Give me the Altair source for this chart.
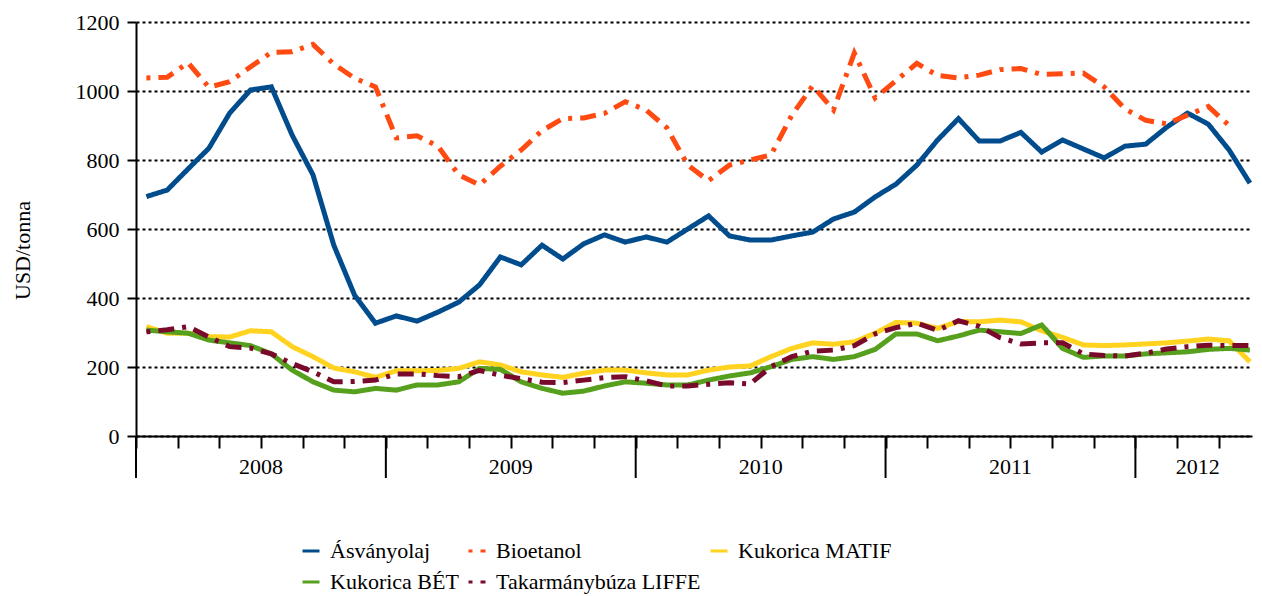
import altair as alt
import pandas as pd

series = ["Ásványolaj", "Bioetanol", "Kukorica MATIF", "Kukorica BÉT", "Takarmánybúza LIFFE"]
colors = ["#004C8C", "#FF4A12", "#FFD320", "#57A01E", "#7A0A2C"]
dashes = [[1, 0], [4, 8, 16, 8], [1, 0], [1, 0], [4, 8, 16, 8]]
years = ["2008", "2009", "2010", "2011", "2012"]
y_ticks = [0, 200, 400, 600, 800, 1000, 1200]

# monthly prices, USD/tonna, Jan 2008 - Jun 2012
asvanyolaj = [694, 713, 774, 834, 936, 1003, 1012, 872, 757, 553, 408, 327,
              348, 333, 359, 388, 438, 519, 496, 553, 513, 557, 583, 562,
              577, 562, 600, 638, 580, 568, 568, 580, 591, 629, 649, 693,
              730, 785, 858, 920, 855, 855, 880, 823, 858, 832, 806, 840,
              846, 895, 936, 904, 829, 733]
bioetanol = [1038, 1040, 1082, 1011, 1027, 1070, 1112, 1114, 1135, 1078, 1037, 1012,
             864, 870, 840, 757, 728, 782, 829, 885, 920, 922, 935, 969,
             945, 893, 785, 740, 785, 800, 815, 930, 1015, 945, 1110, 980,
             1030, 1080, 1045, 1038, 1046, 1062, 1065, 1048, 1050, 1052, 1012, 948,
             915, 905, 930, 955, 900]
kukorica_matif = [317, 298, 298, 288, 287, 305, 302, 259, 230, 197, 186, 170,
                  189, 189, 190, 196, 215, 206, 186, 177, 170, 182, 191, 191,
                  183, 177, 177, 191, 200, 203, 230, 254, 270, 266, 273, 298,
                  329, 327, 312, 332, 331, 336, 331, 305, 286, 264, 262, 264,
                  267, 270, 275, 281, 276, 215]
kukorica_bet = [307, 302, 298, 278, 270, 262, 238, 191, 157, 133, 128, 138,
                133, 148, 148, 157, 196, 193, 157, 138, 124, 130, 145, 157,
                153, 148, 148, 162, 174, 183, 201, 222, 230, 222, 230, 251,
                296, 296, 276, 290, 307, 302, 297, 322, 254, 228, 232, 232,
                238, 241, 244, 251, 254, 249]
takarmanybuza = [302, 308, 317, 287, 259, 255, 238, 210, 186, 157, 158, 162,
                 180, 180, 175, 172, 190, 176, 166, 156, 155, 162, 169, 172,
                 160, 145, 145, 150, 154, 151, 201, 230, 246, 249, 262, 296,
                 314, 327, 306, 334, 318, 285, 267, 270, 270, 238, 233, 232,
                 240, 252, 259, 263, 262, 262]

values = [asvanyolaj, bioetanol, kukorica_matif, kukorica_bet, takarmanybuza]
rows = []
for name, vals in zip(series, values):
    for i, v in enumerate(vals):
        rows.append({"series": name, "m": i + 0.5, "v": v})
df = pd.DataFrame(rows)

n_months = max(len(v) for v in values)
year_df = pd.DataFrame({
    "year": years,
    "m": [(12 * k + min(12 * k + 12, n_months)) / 2 for k in range(len(years))],
})
bound_df = pd.DataFrame({"m": [12 * k for k in range(len(years))]})

FONT = "Liberation Serif"
x_scale = alt.Scale(domain=[0, 53.6], nice=False, zero=False)

legend = alt.Legend(title=None, orient="none", legendX=164, legendY=518,
                    direction="horizontal", columns=3,
                    symbolType="stroke", symbolSize=289,
                    symbolStrokeWidth=3, labelFont=FONT, labelFontSize=22,
                    labelColor="black", labelOffset=8, columnPadding=3,
                    rowPadding=9, labelLimit=500, padding=0)

lines = alt.Chart(df).mark_line(strokeWidth=5).encode(
    x=alt.X("m:Q", scale=x_scale,
            axis=alt.Axis(values=list(range(n_months)), labels=False, title=None,
                          tickSize=12, tickWidth=2, tickColor="black",
                          domainColor="black", domainWidth=2, grid=False)),
    y=alt.Y("v:Q", scale=alt.Scale(domain=[0, 1200], nice=False),
            axis=alt.Axis(values=y_ticks, format="d", title="USD/tonna", grid=True,
                          gridDash=[3, 3], gridColor="black", gridWidth=2,
                          tickSize=9, tickWidth=2, tickColor="black",
                          domainColor="black", domainWidth=2,
                          labelFont=FONT, labelFontSize=22, labelColor="black",
                          labelPadding=8,
                          titleFont=FONT, titleFontSize=22, titleFontWeight="normal",
                          titleColor="black", titleAngle=270, titleX=-114, titleY=228,
                          titleAlign="center", titleBaseline="middle")),
    color=alt.Color("series:N", sort=series,
                    scale=alt.Scale(domain=series, range=colors), legend=legend),
    strokeDash=alt.StrokeDash("series:N", sort=series,
                              scale=alt.Scale(domain=series, range=dashes), legend=legend),
)

bounds = alt.Chart(bound_df).mark_rule(color="black", strokeWidth=2).encode(
    x=alt.X("m:Q", scale=x_scale, title=None),
    y=alt.value(414), y2=alt.value(456),
)

year_text = alt.Chart(year_df).mark_text(font=FONT, fontSize=22, color="black",
                                         align="center", baseline="middle").encode(
    x=alt.X("m:Q", scale=x_scale, title=None),
    y=alt.value(445),
    text="year:N",
)

chart = alt.layer(lines, bounds, year_text).properties(
    width=1116, height=414,
    background="white",
    autosize=alt.AutoSizeParams(type="none"),
    padding={"left": 128, "top": 14, "right": 2, "bottom": 168},
).configure_view(stroke=None)

chart.save("out.html", embed_options={"renderer": "svg", "actions": False})
